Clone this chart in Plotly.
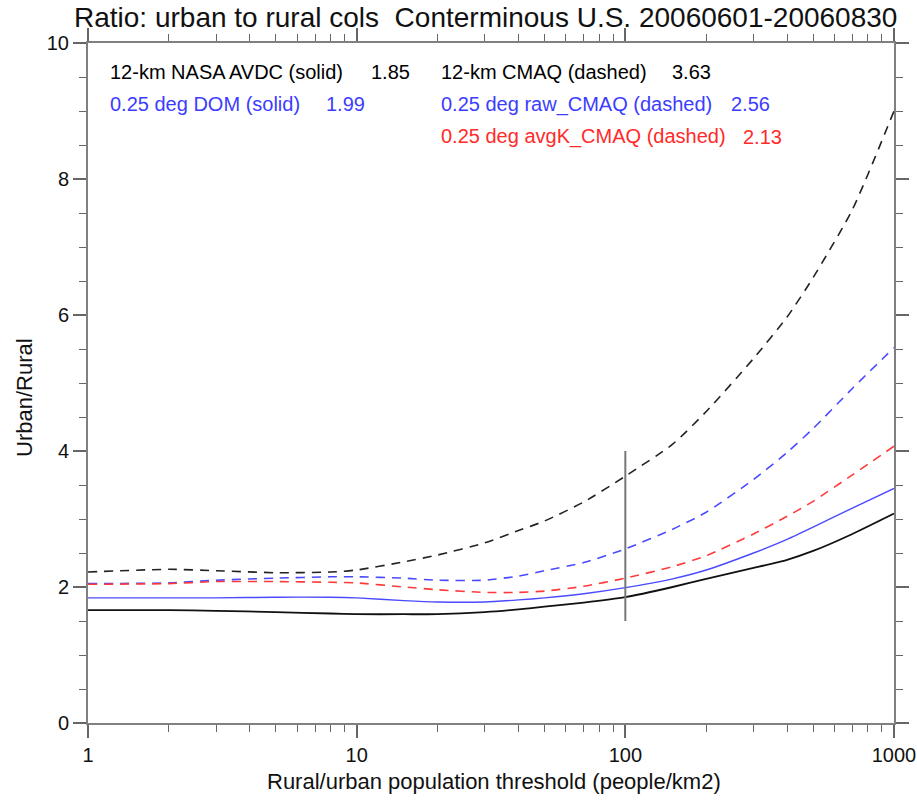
import plotly.graph_objects as go

# ---------------- data ----------------
threshold = [1, 2, 3, 5, 8, 10, 15, 20, 30, 40, 50, 70, 100, 150, 200, 300, 400, 500, 700, 1000]

nasa_avdc_12km = [1.66, 1.66, 1.65, 1.63, 1.61, 1.60, 1.60, 1.60, 1.63, 1.67, 1.71, 1.77, 1.85,
                  2.00, 2.12, 2.28, 2.40, 2.53, 2.78, 3.08]
cmaq_12km = [2.22, 2.26, 2.24, 2.21, 2.22, 2.25, 2.37, 2.47, 2.65, 2.83, 2.97, 3.25, 3.63,
             4.10, 4.58, 5.36, 5.97, 6.55, 7.55, 9.00]
dom_025 = [1.84, 1.84, 1.84, 1.85, 1.85, 1.84, 1.80, 1.78, 1.78, 1.81, 1.84, 1.90, 1.99,
           2.12, 2.25, 2.50, 2.70, 2.88, 3.16, 3.45]
raw_cmaq_025 = [2.05, 2.06, 2.10, 2.13, 2.15, 2.15, 2.13, 2.10, 2.10, 2.16, 2.24, 2.36, 2.56,
                2.85, 3.10, 3.58, 3.98, 4.33, 4.92, 5.52]
avgk_cmaq_025 = [2.04, 2.05, 2.08, 2.08, 2.07, 2.06, 2.00, 1.96, 1.92, 1.92, 1.94, 2.01, 2.13,
                 2.30, 2.46, 2.78, 3.04, 3.26, 3.65, 4.07]

marker_threshold = 100
marker_span = [1.5, 4.0]

legend_rows = [
    ("12-km NASA AVDC (solid)", "1.85", "black"),
    ("12-km CMAQ (dashed)", "3.63", "black"),
    ("0.25 deg DOM (solid)", "1.99", "#3c3cff"),
    ("0.25 deg raw_CMAQ (dashed)", "2.56", "#3c3cff"),
    ("0.25 deg avgK_CMAQ (dashed)", "2.13", "#ff2a2a"),
]

x_major_ticks = [1, 10, 100, 1000]
x_major_labels = ["1", "10", "100", "1000"]
x_minor_ticks = [2, 3, 4, 5, 6, 7, 8, 9, 20, 30, 40, 50, 60, 70, 80, 90,
                 200, 300, 400, 500, 600, 700, 800, 900]

# ---------------- geometry helpers (pixels -> paper) ----------------
W, H = 917, 801
L, R, T, B = 88, 894, 43, 723


def px(x):
    return (x - L) / (R - L)


def py(y):
    return (B - y) / (B - T)


FONT = "Liberation Sans"
DASH = "9px,7px"
SM = 0.6

fig = go.Figure()
fig.add_trace(go.Scatter(x=threshold, y=cmaq_12km, mode="lines",
                         line=dict(color="#222222", width=1.6, dash=DASH, shape="spline", smoothing=SM)))
fig.add_trace(go.Scatter(x=threshold, y=raw_cmaq_025, mode="lines",
                         line=dict(color="#4a4aff", width=1.6, dash=DASH, shape="spline", smoothing=SM)))
fig.add_trace(go.Scatter(x=threshold, y=avgk_cmaq_025, mode="lines",
                         line=dict(color="#ff3a3a", width=1.6, dash=DASH, shape="spline", smoothing=SM)))
fig.add_trace(go.Scatter(x=threshold, y=dom_025, mode="lines",
                         line=dict(color="#4a4aff", width=1.4, shape="spline", smoothing=SM)))
fig.add_trace(go.Scatter(x=threshold, y=nasa_avdc_12km, mode="lines",
                         line=dict(color="#111111", width=1.8, shape="spline", smoothing=SM)))
fig.add_trace(go.Scatter(x=[marker_threshold, marker_threshold], y=marker_span, mode="lines",
                         line=dict(color="#777777", width=2)))

annotations = []
# legend text rows
label_pos = [(108, 72), (439, 72), (108, 104), (439, 104), (439, 137)]
num_end = [412, 713, 367, 772, 784]
for (lab, num, col), (lx, ly), ne in zip(legend_rows, label_pos, num_end):
    annotations.append(dict(x=px(lx), y=py(ly), xref="paper", yref="paper", text=lab,
                            showarrow=False, xanchor="left", yanchor="middle",
                            font=dict(family=FONT, size=20, color=col)))
    annotations.append(dict(x=px(ne), y=py(ly), xref="paper", yref="paper", text=num,
                            showarrow=False, xanchor="right", yanchor="middle",
                            font=dict(family=FONT, size=20, color=col)))

# title
annotations.append(dict(x=px(485), y=py(18), xref="paper", yref="paper",
                        text="Ratio: urban to rural cols  Conterminous U.S. 20060601-20060830",
                        showarrow=False, xanchor="center", yanchor="middle",
                        font=dict(family=FONT, size=28, color="#111111")))
# y title
annotations.append(dict(x=px(25), y=py(398), xref="paper", yref="paper", text="Urban/Rural",
                        showarrow=False, textangle=-90, xanchor="center", yanchor="middle",
                        font=dict(family=FONT, size=22, color="#111111")))
# x title
annotations.append(dict(x=px(494), y=py(782), xref="paper", yref="paper",
                        text="Rural/urban population threshold (people/km2)",
                        showarrow=False, xanchor="center", yanchor="middle",
                        font=dict(family=FONT, size=22, color="#111111")))

axis_common = dict(showline=True, linecolor="#808080", linewidth=2, mirror="allticks",
                   ticks="outside", ticklen=13, tickwidth=1.5, tickcolor="#666666",
                   showgrid=False, zeroline=False, automargin=False,
                   tickfont=dict(family=FONT, size=20, color="#111111"))

fig.update_layout(
    width=W, height=H,
    margin=dict(l=L, r=W - R, t=T, b=H - B, autoexpand=False),
    paper_bgcolor="white", plot_bgcolor="white",
    showlegend=False,
    annotations=annotations,
    xaxis=dict(type="log", range=[0, 3], tickmode="array", tickvals=x_major_ticks,
               ticktext=x_major_labels,
               minor=dict(tickmode="array", tickvals=x_minor_ticks, ticks="outside",
                          ticklen=7, tickwidth=1.2, tickcolor="#666666", showgrid=False),
               **axis_common),
    yaxis=dict(range=[0, 10], tickmode="linear", tick0=0, dtick=2,
               minor=dict(tickmode="linear", tick0=0, dtick=0.5, ticks="outside",
                          ticklen=7, tickwidth=1.2, tickcolor="#666666", showgrid=False),
               **axis_common),
)

fig.write_html("out.html")
